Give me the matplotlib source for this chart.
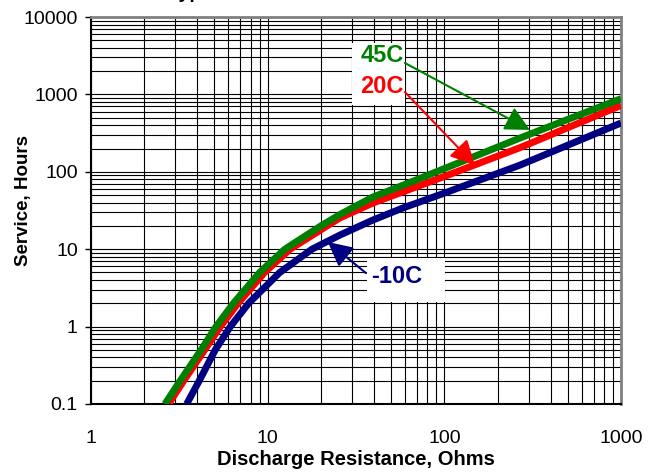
import matplotlib
matplotlib.use("Agg")
import matplotlib.pyplot as plt
from matplotlib.patches import Rectangle
from matplotlib.ticker import FixedLocator, FixedFormatter, LogLocator

plt.rcParams['font.family'] = ['Liberation Sans', 'DejaVu Sans']

# values (log-log)
r_45 = [2.62, 3.2, 4.2, 5.1, 6.4, 9.0, 12.5, 20.0, 25.6, 39.4, 60, 100, 268, 1000]
h_45 = [0.1, 0.2, 0.5, 1, 2, 5, 10, 20, 28, 47.2, 68.8, 110, 273, 880]

r_20 = [2.75, 3.35, 4.4, 5.4, 6.8, 9.6, 13.4, 21.7, 25.6, 39.4, 100, 268, 1000]
h_20 = [0.1, 0.2, 0.5, 1, 2, 5, 10, 20, 25.3, 39.5, 87, 205, 720]

r_m10 = [3.48, 4.1, 5.05, 6.15, 7.8, 11.7, 17.8, 25.6, 39.4, 58.3, 100, 268, 1000]
h_m10 = [0.1, 0.2, 0.5, 1, 2, 5, 10, 15.2, 23.8, 34.1, 53, 122, 427]

x_ticks = [1, 10, 100, 1000]
x_labels = ["1", "10", "100", "1000"]
y_ticks = [0.1, 1, 10, 100, 1000, 10000]
y_labels = ["0.1", "1", "10", "100", "1000", "10000"]

fig = plt.figure(figsize=(6.58, 4.72), dpi=100)
ax = fig.add_axes([91 / 658, 1 - 404 / 472, 530 / 658, 387 / 472])

ax.set_xscale("log")
ax.set_yscale("log")
ax.set_xlim(1, 1000)
ax.set_ylim(0.1, 10000)

ax.plot(r_20, h_20, color="#ff0000", lw=5, zorder=4, solid_capstyle="butt")
ax.plot(r_45, h_45, color="#008000", lw=5, zorder=5, solid_capstyle="butt")
ax.plot(r_m10, h_m10, color="#000080", lw=5, zorder=4, solid_capstyle="butt")

# grid
ax.xaxis.set_minor_locator(LogLocator(base=10, subs=range(2, 10)))
ax.yaxis.set_minor_locator(LogLocator(base=10, subs=range(2, 10)))
ax.grid(which="both", color="black", lw=0.8)
ax.set_axisbelow(True)

ax.xaxis.set_major_locator(FixedLocator(x_ticks))
ax.xaxis.set_major_formatter(FixedFormatter(x_labels))
ax.yaxis.set_major_locator(FixedLocator(y_ticks))
ax.yaxis.set_major_formatter(FixedFormatter(y_labels))
ax.tick_params(which="minor", length=0)
ax.tick_params(axis="x", which="major", length=0, pad=19, labelsize=14)
ax.tick_params(axis="y", which="major", length=4.5, width=1, pad=5, labelsize=14)

for s in ["left", "bottom"]:
    ax.spines[s].set_color("black")
    ax.spines[s].set_linewidth(1.5)
for s in ["top", "right"]:
    ax.spines[s].set_color("#808080")
    ax.spines[s].set_linewidth(2)

ax.set_xlabel("Discharge Resistance, Ohms", fontsize=14.5, fontweight="bold")
ax.xaxis.set_label_coords(0.5, -0.12)
ax.set_ylabel("Service, Hours", fontsize=13.5, fontweight="bold")
ax.yaxis.set_label_coords(-0.111, 0.527)

# white boxes behind the curve labels
ax.add_patch(Rectangle((30.0, 730), 59.8 - 30.0, 4617 - 730, facecolor="white",
                       edgecolor="none", zorder=6))
ax.add_patch(Rectangle((36.6, 2.05), 100.7 - 36.6, 7.71 - 2.05, facecolor="white",
                       edgecolor="none", zorder=6))

ax.text(44.4, 3228, "45C", color="#008000", fontsize=17, fontweight="bold",
        ha="center", va="center", zorder=7)
ax.text(44.4, 1247, "20C", color="#ff0000", fontsize=17, fontweight="bold",
        ha="center", va="center", zorder=7)
ax.text(53.9, 4.5, "-10C", color="#000080", fontsize=17, fontweight="bold",
        ha="center", va="center", zorder=7)

arrow_style = "-|>,head_length=0.75,head_width=0.38"
ax.annotate("", xy=(305, 347), xytext=(59.8, 2545),
            arrowprops=dict(arrowstyle=arrow_style, mutation_scale=20, lw=1.5,
                            color="#008000", shrinkA=0, shrinkB=0), zorder=8)
ax.annotate("", xy=(149, 122), xytext=(59.8, 1074),
            arrowprops=dict(arrowstyle=arrow_style, mutation_scale=20, lw=1.5,
                            color="#ff0000", shrinkA=0, shrinkB=0), zorder=8)
ax.annotate("", xy=(21.9, 12.4), xytext=(36.0, 4.92),
            arrowprops=dict(arrowstyle=arrow_style, mutation_scale=20, lw=1.5,
                            color="#000080", shrinkA=0, shrinkB=0), zorder=8)

# title cut off at the top of the image (only descenders show)
fig.text(168 / 658, 1 + 2 / 472, "Typical Service Characteristics", fontsize=14,
         fontweight="bold", ha="left", va="baseline")

fig.savefig("out.png", dpi=100)
